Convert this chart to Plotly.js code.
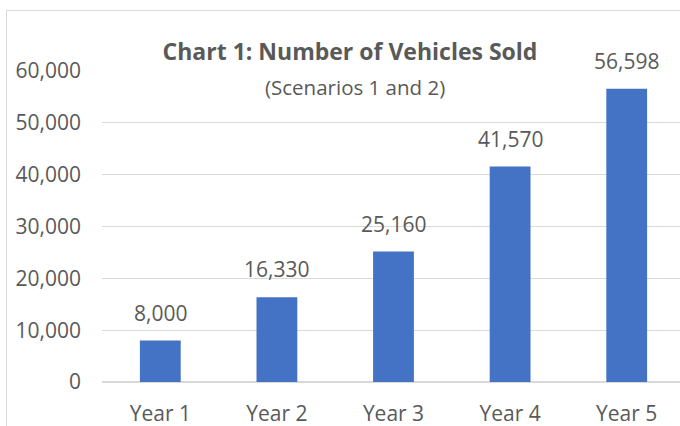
<!DOCTYPE html>
<html>
<head>
<meta charset="utf-8">
<script src="https://cdn.plot.ly/plotly-3.0.1.min.js"></script>
<style>
html, body { margin:0; padding:0; width:680px; height:426px; overflow:hidden; background:#fff; }
#frame { position:absolute; left:6px; top:10px; width:720px; height:460px; border:1.5px solid #d9d9d9; box-sizing:border-box; }
#chart { position:absolute; left:0; top:0; width:700px; height:426px; }
</style>
</head>
<body>
<div id="frame"></div>
<div id="chart"></div>
<script>
const categories = ["Year 1", "Year 2", "Year 3", "Year 4", "Year 5"];
const vehiclesSold = [8000, 16330, 25160, 41570, 56598];
const yTickValues = [0, 10000, 20000, 30000, 40000, 50000, 60000];
const yTickLabels = ["0", "10,000", "20,000", "30,000", "40,000", "50,000", "60,000"];
const labelTexts = vehiclesSold.map(v => v.toLocaleString("en-US"));

const textColor = "#595959";
const fontFamily = "Open Sans, sans-serif";

const trace = {
  type: "bar",
  x: categories,
  y: vehiclesSold,
  marker: { color: "#4472C4" },
  hoverinfo: "none"
};

const labelAnnotations = categories.map((c, i) => ({
  x: c, y: vehiclesSold[i], xref: "x", yref: "y",
  text: labelTexts[i], showarrow: false,
  yanchor: "bottom", yshift: 12,
  font: { family: fontFamily, size: 21, color: textColor }
}));

const layout = {
  width: 700, height: 426,
  margin: { l: 102, r: 14.5, t: 71, b: 44 },
  paper_bgcolor: "rgba(0,0,0,0)",
  plot_bgcolor: "rgba(0,0,0,0)",
  bargap: 0.65,
  showlegend: false,
  title: {
    text: "<b>Chart 1: Number of Vehicles Sold</b>",
    x: 350/700, xref: "container", xanchor: "center",
    y: 1 - 52/426, yref: "container", yanchor: "middle",
    font: { family: fontFamily, size: 23, color: textColor }
  },
  xaxis: {
    type: "category",
    showgrid: false, showline: false, zeroline: false,
    ticks: "", ticklabelstandoff: 17, automargin: false,
    tickfont: { family: fontFamily, size: 21, color: textColor }
  },
  yaxis: {
    range: [0, 60000],
    tickmode: "array", tickvals: yTickValues, ticktext: yTickLabels,
    showgrid: true, gridcolor: "#d9d9d9", gridwidth: 1.3,
    zeroline: true, zerolinecolor: "#d9d9d9", zerolinewidth: 1.3,
    showline: false, ticks: "", ticklabelstandoff: 20, automargin: false,
    tickfont: { family: fontFamily, size: 21, color: textColor }
  },
  annotations: [
    {
      text: "(Scenarios 1 and 2)", showarrow: false,
      xref: "paper", yref: "paper",
      x: (355-102)/583.5, y: (382-87)/311, xanchor: "center", yanchor: "middle",
      font: { family: fontFamily, size: 20.5, color: textColor }
    }
  ].concat(labelAnnotations)
};

Plotly.newPlot("chart", [trace], layout, { displayModeBar: false, staticPlot: true });
</script>
</body>
</html>
